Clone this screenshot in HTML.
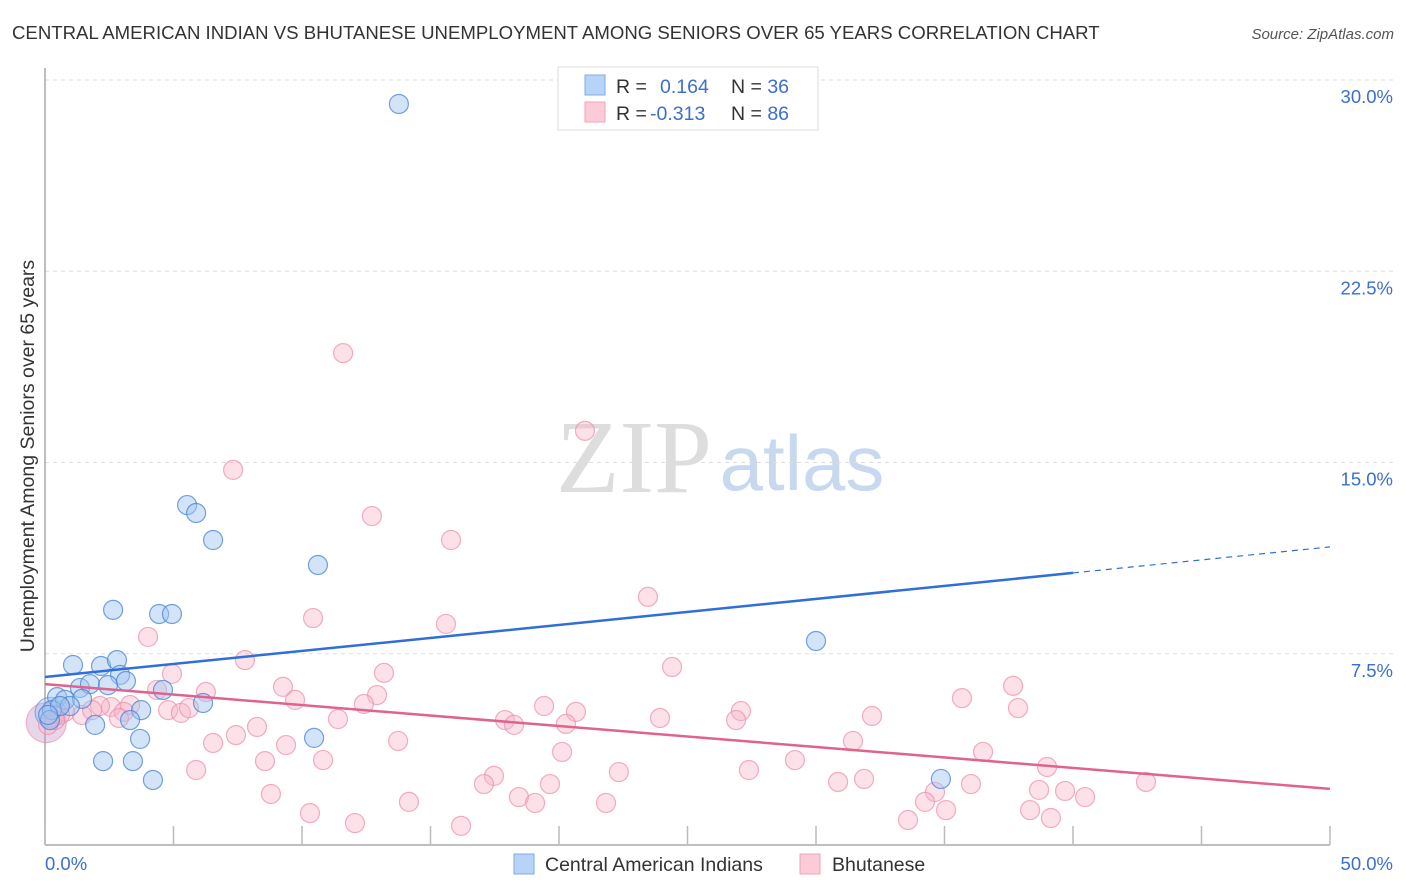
<!DOCTYPE html>
<html><head><meta charset="utf-8"><style>
body{margin:0;background:#fff;font-family:"Liberation Sans",sans-serif;}
svg{display:block}
</style></head><body>
<svg id="chart" width="1406" height="892">
<text x="12" y="39" font-size="18.6" fill="#333">CENTRAL AMERICAN INDIAN VS BHUTANESE UNEMPLOYMENT AMONG SENIORS OVER 65 YEARS CORRELATION CHART</text>
<text x="1394" y="39" font-size="15" fill="#555" font-style="italic" text-anchor="end">Source: ZipAtlas.com</text>
<g>
<text x="634" y="492" font-size="104" fill="#ddd" font-family="Liberation Serif,serif" text-anchor="middle">ZIP</text>
<text x="802" y="490" font-size="78" fill="#c8d8ef" text-anchor="middle">atlas</text>
</g>
<g id="grid"></g>
<g id="axes"></g>
<g id="marks"></g>
<text transform="translate(34,456) rotate(-90)" font-size="19.5" fill="#333" text-anchor="middle">Unemployment Among Seniors over 65 years</text>
<g>
<rect x="558" y="67" width="260" height="63" fill="#fff" stroke="#ddd"/>
<rect x="585" y="75" width="20" height="20" fill="#b7d3f5" stroke="#7eaee8"/>
<rect x="585" y="102" width="20" height="20" fill="#fbcbd8" stroke="#f0a3b8"/>
<text x="616" y="93" font-size="19.5" fill="#333">R = <tspan fill="#3a6fd0" x="660">0.164</tspan><tspan x="731" fill="#333">N = </tspan><tspan fill="#3a6fd0">36</tspan></text>
<text x="616" y="120" font-size="19.5" fill="#333">R = <tspan fill="#3a6fd0" x="650">-0.313</tspan><tspan x="731" fill="#333">N = </tspan><tspan fill="#3a6fd0">86</tspan></text>
</g>
<g>
<rect x="514" y="854" width="20" height="20" fill="#b7d3f5" stroke="#7eaee8"/>
<text x="545" y="871" font-size="19.5" fill="#333">Central American Indians</text>
<rect x="800" y="854" width="20" height="20" fill="#fbcbd8" stroke="#f0a3b8"/>
<text x="832" y="871" font-size="19.5" fill="#333">Bhutanese</text>
</g>
</svg>
<script>
const blueX=[13.77,5.53,5.88,6.54,10.62,2.65,4.44,4.94,30.0,1.09,2.18,2.80,2.92,1.36,1.75,2.45,3.15,4.59,0.47,0.78,1.44,0.27,0.97,3.74,6.15,3.31,1.95,3.70,10.47,2.26,3.42,4.20,34.86,0.58,0.19,0.12];
const blueY=[29.06,13.33,13.02,11.96,10.98,9.22,9.06,9.06,8.0,7.06,7.02,7.25,6.67,6.16,6.31,6.27,6.43,6.08,5.80,5.69,5.73,5.29,5.45,5.29,5.57,4.90,4.71,4.16,4.20,3.29,3.29,2.55,2.59,5.45,4.90,5.10];
const pinkX=[11.60,21.01,7.32,12.72,15.80,23.46,10.43,15.60,4.01,24.40,7.78,4.94,13.19,37.67,9.26,6.26,4.36,12.92,35.68,9.73,37.86,19.42,12.41,27.08,20.66,4.79,5.29,5.60,2.57,3.31,3.07,2.14,2.88,1.44,1.83,0.78,0.58,0.39,0.12,32.18,23.93,17.90,18.25,11.40,26.89,8.25,20.27,7.43,6.54,13.74,31.44,9.38,36.50,20.12,29.18,8.56,10.82,38.99,27.39,22.33,5.88,17.47,17.08,30.86,31.87,19.65,36.03,42.84,34.63,38.68,39.69,40.47,8.79,18.44,14.16,21.83,19.07,34.24,10.31,35.06,38.33,12.06,16.19,33.58,39.14];
const pinkY=[19.29,16.24,14.71,12.90,11.96,9.73,8.90,8.67,8.16,6.98,7.25,6.71,6.75,6.24,6.20,6.00,6.08,5.88,5.76,5.69,5.37,5.45,5.53,5.25,5.22,5.29,5.18,5.37,5.41,5.49,5.22,5.45,4.98,5.10,5.29,5.22,5.10,4.90,4.71,5.06,4.98,4.90,4.71,4.94,4.90,4.63,4.75,4.31,4.00,4.08,4.08,3.92,3.65,3.65,3.33,3.29,3.33,3.06,2.94,2.86,2.94,2.71,2.39,2.47,2.59,2.39,2.39,2.47,2.08,2.16,2.12,1.88,2.00,1.88,1.69,1.65,1.65,1.69,1.25,1.37,1.37,0.86,0.75,0.98,1.06];
const bigBlue=[0.2,5.2];
const bigPink=[0.05,4.8];
const blueTrend=[6.59,10.67,40,50];
const pinkTrend=[6.31,2.2];
const yTicks=[7.5,15,22.5,30];
const yTickLabels=["7.5%","15.0%","22.5%","30.0%"];
const xTicks=[0,5,10,15,20,25,30,35,40,45,50];

const NS="http://www.w3.org/2000/svg";
function X(v){return 45+v*25.7;}
function Y(v){return 845-v*25.5;}
function mk(tag,attrs,parent){const e=document.createElementNS(NS,tag);for(const k in attrs)e.setAttribute(k,attrs[k]);parent.appendChild(e);return e;}
const grid=document.getElementById('grid'),axes=document.getElementById('axes'),marks=document.getElementById('marks');
yTicks.forEach((t,i)=>{
  const l=mk('line',{x1:45,x2:1393,y1:Y(t),y2:Y(t),stroke:'#ddd','stroke-dasharray':'4,4'},grid);
  
  
  const tx=mk('text',{x:1393,y:Y(t)+23,'font-size':18.5,fill:'#3a6fd0','text-anchor':'end'},axes);
  tx.textContent=yTickLabels[i];
  
  
});
const xa=mk('line',{x1:45,x2:1330,y1:845,y2:845,stroke:'#aaa','stroke-width':1.5},axes);


const ya=mk('line',{x1:45,x2:45,y1:68,y2:845,stroke:'#aaa','stroke-width':1.5},axes);


xTicks.forEach(t=>{
  const l=mk('line',{x1:X(t),x2:X(t),y1:826,y2:845,stroke:'#bbb','stroke-width':1.5},axes);
  
  
});
const xl0=mk('text',{x:45,y:870,'font-size':18.5,fill:'#3a6fd0'},axes);xl0.textContent='0.0%';


const xl1=mk('text',{x:1393,y:870,'font-size':18.5,fill:'#3a6fd0','text-anchor':'end'},axes);xl1.textContent='50.0%';



function dot(x,y,r,fill,stroke,name){
  const c=mk('circle',{cx:X(x),cy:Y(y),r:r,fill:fill,stroke:stroke,'stroke-width':1.2},marks);
  
  
}
dot(bigPink[0],bigPink[1],20,'rgba(200,150,200,0.4)','rgba(230,140,170,0.6)','bhutanese-large-point');
dot(bigBlue[0],bigBlue[1],15,'rgba(150,190,240,0.35)','rgba(80,140,220,0.6)','central-american-large-point');
pinkX.forEach((x,i)=>dot(x,pinkY[i],9.5,'rgba(248,180,200,0.4)','rgba(236,140,170,0.7)','bhutanese-point'));
blueX.forEach((x,i)=>dot(x,blueY[i],9.5,'rgba(160,195,240,0.45)','rgba(70,130,215,0.75)','central-american-point'));
const slope=(blueTrend[1]-blueTrend[0])/blueTrend[2];
const bl=mk('line',{x1:X(0),y1:Y(blueTrend[0]),x2:X(blueTrend[2]),y2:Y(blueTrend[1]),stroke:'#2f6fd6','stroke-width':2.5},marks);


const bd=mk('line',{x1:X(blueTrend[2]),y1:Y(blueTrend[1]),x2:X(blueTrend[3]),y2:Y(blueTrend[0]+slope*blueTrend[3]),stroke:'#2f6fd6','stroke-width':1.2,'stroke-dasharray':'6,5'},marks);


const pl=mk('line',{x1:X(0),y1:Y(pinkTrend[0]),x2:X(50),y2:Y(pinkTrend[1]),stroke:'#e0628e','stroke-width':2.5},marks);


</script>
</body></html>
